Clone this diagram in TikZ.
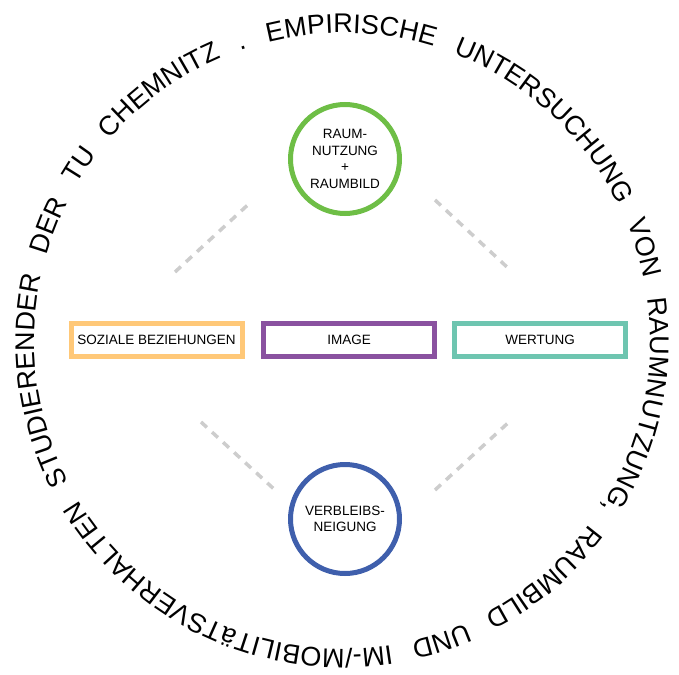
\documentclass[tikz,border=0pt]{standalone}
\usepackage{fontspec}
\setmainfont{Liberation Sans}
\usetikzlibrary{decorations.text}

\definecolor{ringgreen}{RGB}{110,190,70}
\definecolor{ringblue}{RGB}{63,95,172}
\definecolor{boxorange}{RGB}{255,200,120}
\definecolor{boxpurple}{RGB}{138,82,160}
\definecolor{boxteal}{RGB}{110,197,176}
\definecolor{dashgrey}{RGB}{205,205,205}

\begin{document}
\begin{tikzpicture}[x=1pt,y=1pt,
  ring/.style={draw=#1, line width=5pt, circle, minimum size=109pt, inner sep=0pt,
    align=center, font=\fontsize{13.5}{16.5}\selectfont},
  factor/.style={draw=#1, line width=5pt, rectangle, minimum width=171pt,
    minimum height=33pt, inner sep=0pt, font=\fontsize{13.5}{16}\selectfont},
  link/.style={draw=dashgrey, line width=3.5pt, dash pattern=on 8pt off 7pt}]
\useasboundingbox (0,0) rectangle (679,-674);

% title running clockwise around the figure
\path[decorate, decoration={text along path,
  text={|\fontsize{27}{27}\selectfont|EMPIRISCHE UNTERSUCHUNG VON RAUMNUTZUNG, RAUMBILD UND IM-/MOBILITäTSVERHALTEN STUDIERENDER DER TU CHEMNITZ .},
  text align={fit to path stretching spaces}}]
  (342.5,-341) ++(104:308)
  arc[start angle=104, end angle=-252, radius=308];

% central elements
\node[ring=ringgreen] (raum) at (345,-159) {RAUM-\\NUTZUNG\\+\\RAUMBILD};
\node[ring=ringblue] (verbleib) at (345,-519) {VERBLEIBS-\\NEIGUNG};

\node[factor=boxorange] (sozial) at (156.5,-340) {SOZIALE BEZIEHUNGEN};
\node[factor=boxpurple] (image) at (349,-340) {IMAGE};
\node[factor=boxteal] (wertung) at (540,-340) {WERTUNG};

% dashed guide lines
\coordinate (tl1) at (175,-272); \coordinate (tl2) at (252,-201);
\coordinate (tr1) at (435,-200); \coordinate (tr2) at (508,-268);
\coordinate (bl1) at (201,-422); \coordinate (bl2) at (275,-490);
\coordinate (br1) at (435,-490); \coordinate (br2) at (509,-422);
\draw[link] (tl1) -- (tl2);
\draw[link] (tr1) -- (tr2);
\draw[link] (bl1) -- (bl2);
\draw[link] (br1) -- (br2);
\end{tikzpicture}
\end{document}
